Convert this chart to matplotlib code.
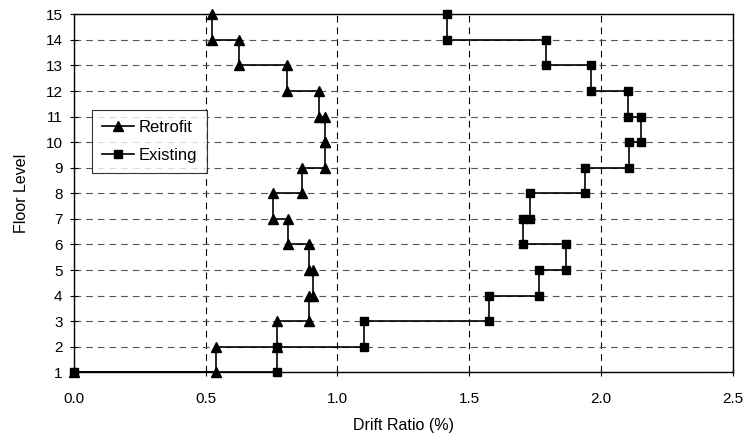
import matplotlib.pyplot as plt

plt.rcParams['font.family'] = ['Liberation Sans', 'DejaVu Sans']

# floor levels and story drift ratios (%)
floors = list(range(1, 16))
retrofit_drift = [0.540, 0.770, 0.893, 0.908, 0.893, 0.814, 0.754,
                  0.867, 0.952, 0.952, 0.930, 0.809, 0.627, 0.525]
existing_drift = [0.770, 1.101, 1.573, 1.763, 1.867, 1.705, 1.731,
                  1.937, 2.107, 2.151, 2.101, 1.962, 1.790, 1.414]
x_ticks = [0.0, 0.5, 1.0, 1.5, 2.0, 2.5]


def step_profile(drifts):
    # each story drift spans from floor i to floor i+1
    xs, ys = [0.0], [floors[0]]
    for i, d in enumerate(drifts):
        xs += [d, d]
        ys += [floors[i], floors[i + 1]]
    return xs, ys


fig = plt.figure(figsize=(7.47, 4.37), dpi=100)
ax = fig.add_axes([0.0987, 0.148, 0.8826, 0.8193])

rx, ry = step_profile(retrofit_drift)
ex, ey = step_profile(existing_drift)
ax.plot(rx, ry, color='black', lw=1.2, marker='^', ms=6.5,
        label='Retrofit', clip_on=False, zorder=3)
ax.plot(ex, ey, color='black', lw=1.2, marker='s', ms=6,
        label='Existing', clip_on=False, zorder=3)

ax.set_xlim(0, 2.5)
ax.set_ylim(1, 15)
ax.set_xticks(x_ticks)
ax.set_xticklabels([f'{t:.1f}' for t in x_ticks])
ax.set_yticks(floors)
ax.tick_params(labelsize=11, length=6, width=0.8, direction='inout')
ax.tick_params(axis='x', pad=11)
ax.tick_params(axis='y', pad=5)

ax.xaxis.grid(True, color='black', linestyle=(0, (6, 4.5)), lw=0.8)
ax.yaxis.grid(True, color='#555555', linestyle=(0, (6, 4.5)), lw=0.8)
ax.set_axisbelow(True)
for s in ax.spines.values():
    s.set_linewidth(1.0)

ax.set_xlabel('Drift Ratio (%)', fontsize=11.5, labelpad=9)
ax.set_ylabel('Floor Level', fontsize=11.5, labelpad=12)

leg = ax.legend(loc='upper left', bbox_to_anchor=(0.028, 0.733), fontsize=12,
                frameon=True, fancybox=False, edgecolor='black',
                borderpad=0.6, labelspacing=0.8, handlelength=1.9,
                handletextpad=0.3, borderaxespad=0)
leg.get_frame().set_linewidth(0.8)

fig.savefig('out.png', dpi=100)
